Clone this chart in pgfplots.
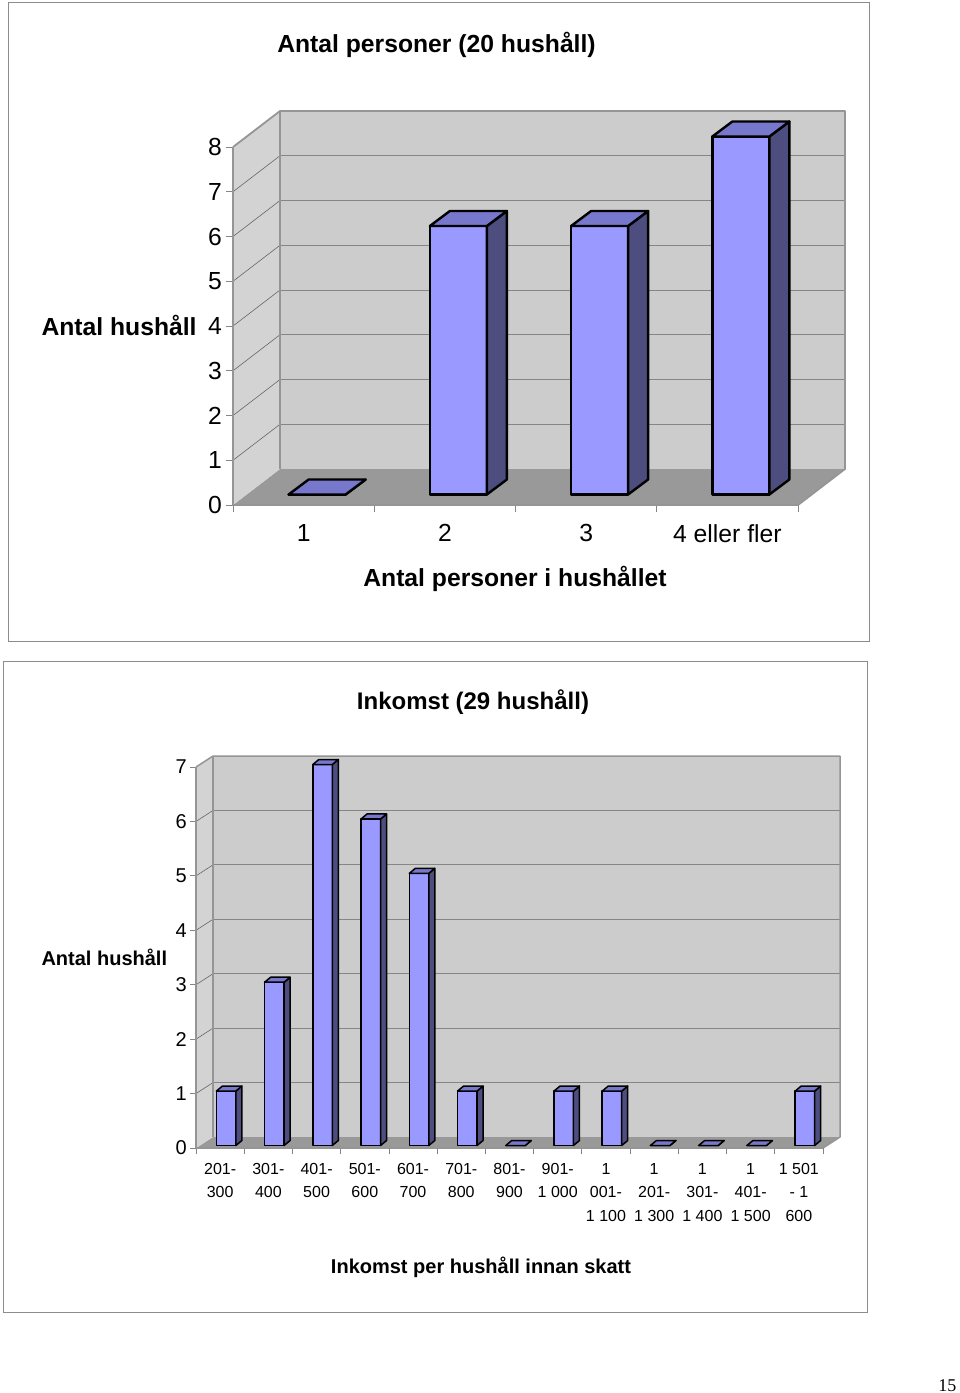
\documentclass[border=0pt]{standalone}
\usepackage{fontspec}
\setmainfont{Liberation Sans}
\newfontfamily\serifpg{Liberation Serif}
\usepackage{pgfplots}
\usepackage{pgfplotstable}
\pgfplotsset{compat=1.18}

\definecolor{barfront}{HTML}{9999FF}
\definecolor{bartop}{HTML}{7777CC}
\definecolor{barside}{HTML}{4D4D80}
\definecolor{wallback}{HTML}{CCCCCC}
\definecolor{wallleft}{HTML}{D3D3D3}
\definecolor{floorc}{HTML}{999999}
\definecolor{edgec}{HTML}{959595}
\definecolor{gridc}{HTML}{858585}
\definecolor{framec}{HTML}{8C8C8C}

\pgfplotstableread{
x v
0.5 0
1.5 6
2.5 6
3.5 8
}\persons

\pgfplotstableread{
x v
0.5 1
1.5 3
2.5 7
3.5 6
4.5 5
5.5 1
6.5 0
7.5 1
8.5 1
9.5 0
10.5 0
11.5 0
12.5 1
}\income

% 3D bar drawn at the data point (x, v): front face, side face, top face
\pgfdeclareplotmark{bar3d}{%
  \pgfmathsetlengthmacro\hh{\barv*\YU}%
  \pgfmathsetlengthmacro\xl{\SX-\BW}%
  \pgfmathsetlengthmacro\xr{\SX+\BW}%
  \pgfmathsetlengthmacro\xld{\SX-\BW+\DX}%
  \pgfmathsetlengthmacro\xrd{\SX+\BW+\DX}%
  \pgfmathsetlengthmacro\yt{\SY}%
  \pgfmathsetlengthmacro\ytd{\SY+\DY}%
  \pgfmathsetlengthmacro\yb{\SY-\hh}%
  \pgfmathsetlengthmacro\ybd{\SY-\hh+\DY}%
  \pgfsetlinewidth{\LW}\pgfsetstrokecolor{black}\pgfsetroundjoin
  \pgfpathmoveto{\pgfqpoint{\xl}{\yb}}\pgfpathlineto{\pgfqpoint{\xr}{\yb}}%
  \pgfpathlineto{\pgfqpoint{\xr}{\yt}}\pgfpathlineto{\pgfqpoint{\xl}{\yt}}\pgfpathclose
  \pgfsetfillcolor{barfront}\pgfusepath{fill,stroke}%
  \pgfpathmoveto{\pgfqpoint{\xr}{\yb}}\pgfpathlineto{\pgfqpoint{\xrd}{\ybd}}%
  \pgfpathlineto{\pgfqpoint{\xrd}{\ytd}}\pgfpathlineto{\pgfqpoint{\xr}{\yt}}\pgfpathclose
  \pgfsetfillcolor{barside}\pgfusepath{fill,stroke}%
  \pgfpathmoveto{\pgfqpoint{\xl}{\yt}}\pgfpathlineto{\pgfqpoint{\xr}{\yt}}%
  \pgfpathlineto{\pgfqpoint{\xrd}{\ytd}}\pgfpathlineto{\pgfqpoint{\xld}{\ytd}}\pgfpathclose
  \pgfsetfillcolor{bartop}\pgfusepath{fill,stroke}%
}

\pgfplotsset{
  bar3dstyle/.style={scatter, only marks, mark=bar3d,
    scatter/@pre marker code/.code={\pgfscope},
    scatter/@post marker code/.code={\endpgfscope},
    visualization depends on={\thisrow{v} \as \barv}},
}

\begin{document}
\begin{tikzpicture}
\useasboundingbox (0pt,0pt) rectangle (960pt,-1393pt);
\fill[white] (0pt,0pt) rectangle (960pt,-1393pt);
\draw[framec, line width=1pt] (8pt,-2pt) rectangle (869pt,-641pt);
\draw[framec, line width=1pt] (3pt,-661pt) rectangle (867pt,-1312pt);

% ---------------- top chart ----------------
\def\BW{28.5pt}\def\SX{13.5pt}\def\SY{10.5pt}\def\DX{20pt}\def\DY{15pt}\def\YU{44.75pt}\def\LW{2.4pt}
\begin{axis}[
  at={(233pt,-505pt)}, anchor=south west,
  scale only axis, width=565pt, height=358pt,
  xmin=0, xmax=4, ymin=0, ymax=8,
  clip=false, axis on top,
  axis x line*=bottom, axis y line*=left,
  axis line style={draw=edgec, line width=1.8pt},
  ytick={0,...,8},
  xtick={0,...,4}, x tick label as interval,
  xticklabels={1,2,3,4 eller fler},
  tick align=outside, major tick length=7pt,
  tick style={draw=gridc, line width=0.8pt},
  /pgf/number format/assume math mode=true,
  yticklabel style={font=\fontsize{24.7}{29}\selectfont, anchor=east, inner sep=0pt, xshift=-4pt},
  xticklabel style={font=\fontsize{24.7}{29}\selectfont, anchor=north, inner sep=0pt, yshift=-12pt},
]
\fill[floorc] (axis cs:0,0) -- (axis cs:4,0) -- ([shift={(47pt,36pt)}]axis cs:4,0) -- ([shift={(47pt,36pt)}]axis cs:0,0) -- cycle;
\fill[wallleft] (axis cs:0,0) -- (axis cs:0,8) -- ([shift={(47pt,36pt)}]axis cs:0,8) -- ([shift={(47pt,36pt)}]axis cs:0,0) -- cycle;
\fill[wallback] ([shift={(47pt,36pt)}]axis cs:0,0) rectangle ([shift={(47pt,36pt)}]axis cs:4,8);
\pgfplotsinvokeforeach{1,...,7}{
  \draw[gridc, line width=1pt] ([shift={(47pt,36pt)}]axis cs:0,#1) -- ([shift={(47pt,36pt)}]axis cs:4,#1);
  \draw[black!60, line width=0.6pt] (axis cs:0,#1) -- ([shift={(47pt,36pt)}]axis cs:0,#1);
}
\draw[edgec, line width=1.8pt, line join=round] (axis cs:0,8) -- ([shift={(47pt,36pt)}]axis cs:0,8) -- ([shift={(47pt,36pt)}]axis cs:4,8) -- ([shift={(47pt,36pt)}]axis cs:4,0) -- (axis cs:4,0);
\draw[edgec, line width=1.8pt] ([shift={(47pt,36pt)}]axis cs:0,8) -- ([shift={(47pt,36pt)}]axis cs:0,0);
\addplot[bar3dstyle] table[x=x, y=v] {\persons};
\end{axis}

\node[anchor=base, font=\bfseries\fontsize{24.7}{29}\selectfont] at (436.5pt,-52.3pt) {Antal personer (20 hushåll)};
\node[anchor=base west, font=\bfseries\fontsize{24.7}{29}\selectfont] at (38pt,-335pt) {Antal hushåll};
\node[anchor=base, font=\bfseries\fontsize{24.7}{29}\selectfont] at (515pt,-586.7pt) {Antal personer i hushållet};

% ---------------- bottom chart ----------------
\def\BW{9.75pt}\def\SX{6pt}\def\SY{2.5pt}\def\DX{6pt}\def\DY{5pt}\def\YU{54.43pt}\def\LW{1.5pt}
\begin{axis}[
  at={(196pt,-1148pt)}, anchor=south west,
  scale only axis, width=627pt, height=381pt,
  xmin=0, xmax=13, ymin=0, ymax=7,
  clip=false, axis on top,
  axis x line*=bottom, axis y line*=left,
  axis line style={draw=edgec, line width=1.5pt},
  ytick={0,...,7},
  xtick={0,...,13}, x tick label as interval,
  xticklabels={{201-\\300},{301-\\400},{401-\\500},{501-\\600},{601-\\700},{701-\\800},{801-\\900},{901-\\1 000},{1\\001-\\1 100},{1\\201-\\1 300},{1\\301-\\1 400},{1\\401-\\1 500},{1 501\\- 1\\600}},
  tick align=outside, major tick length=6pt,
  tick style={draw=gridc, line width=0.8pt},
  /pgf/number format/assume math mode=true,
  yticklabel style={font=\fontsize{20}{24}\selectfont, anchor=east, inner sep=0pt, xshift=-3pt},
  xticklabel style={font=\fontsize{16}{23.5}\selectfont, align=center, anchor=north, inner sep=0pt, yshift=-9pt},
]
\fill[floorc] (axis cs:0,0) -- (axis cs:13,0) -- ([shift={(17pt,11pt)}]axis cs:13,0) -- ([shift={(17pt,11pt)}]axis cs:0,0) -- cycle;
\fill[wallleft] (axis cs:0,0) -- (axis cs:0,7) -- ([shift={(17pt,11pt)}]axis cs:0,7) -- ([shift={(17pt,11pt)}]axis cs:0,0) -- cycle;
\fill[wallback] ([shift={(17pt,11pt)}]axis cs:0,0) rectangle ([shift={(17pt,11pt)}]axis cs:13,7);
\pgfplotsinvokeforeach{1,...,6}{
  \draw[gridc, line width=1pt] ([shift={(17pt,11pt)}]axis cs:0,#1) -- ([shift={(17pt,11pt)}]axis cs:13,#1);
  \draw[black!60, line width=0.6pt] (axis cs:0,#1) -- ([shift={(17pt,11pt)}]axis cs:0,#1);
}
\draw[edgec, line width=1.5pt, line join=round] (axis cs:0,7) -- ([shift={(17pt,11pt)}]axis cs:0,7) -- ([shift={(17pt,11pt)}]axis cs:13,7) -- ([shift={(17pt,11pt)}]axis cs:13,0) -- (axis cs:13,0);
\draw[edgec, line width=1.5pt] ([shift={(17pt,11pt)}]axis cs:0,7) -- ([shift={(17pt,11pt)}]axis cs:0,0);
\addplot[bar3dstyle] table[x=x, y=v] {\income};
\end{axis}

\node[anchor=base, font=\bfseries\fontsize{24}{29}\selectfont] at (473pt,-709.5pt) {Inkomst (29 hushåll)};
\node[anchor=base west, font=\bfseries\fontsize{20}{24}\selectfont] at (38pt,-965pt) {Antal hushåll};
\node[anchor=base, font=\bfseries\fontsize{20}{24}\selectfont] at (481pt,-1273pt) {Inkomst per hushåll innan skatt};

\node[anchor=base east, font=\serifpg\fontsize{18}{20}\selectfont] at (960pt,-1391pt) {15};
\end{tikzpicture}
\end{document}
